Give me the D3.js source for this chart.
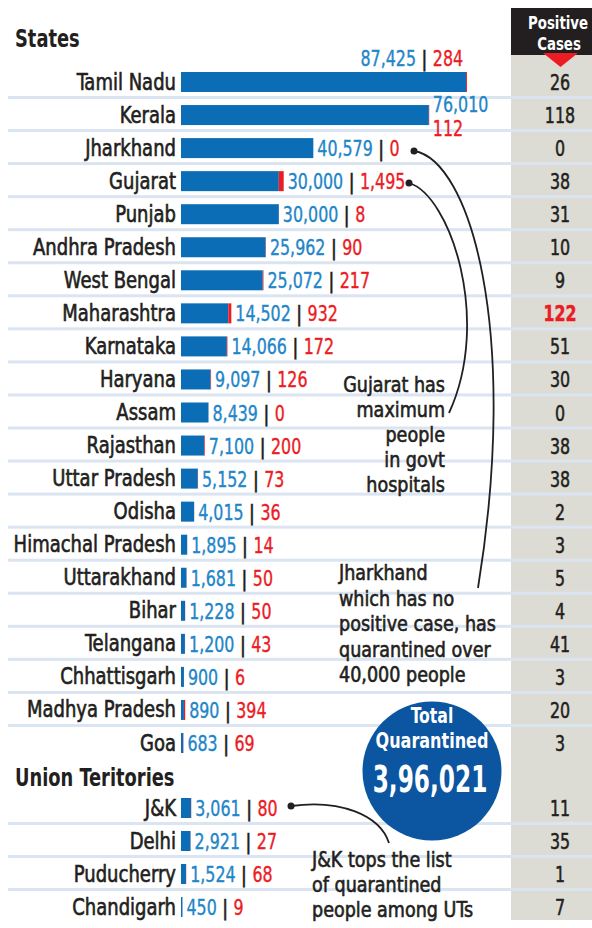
<!DOCTYPE html>
<html>
<head>
<meta charset="utf-8">
<script src="https://cdn.jsdelivr.net/npm/d3@7"></script>
<style>
  body { margin: 0; background: #fff; }
  svg text { font-family: "DejaVu Sans Condensed", "DejaVu Sans", sans-serif; }
</style>
</head>
<body>
<div id="chart"></div>
<script>
// データ
const states = ["Tamil Nadu", "Kerala", "Jharkhand", "Gujarat", "Punjab", "Andhra Pradesh",
  "West Bengal", "Maharashtra", "Karnataka", "Haryana", "Assam", "Rajasthan", "Uttar Pradesh",
  "Odisha", "Himachal Pradesh", "Uttarakhand", "Bihar", "Telangana", "Chhattisgarh",
  "Madhya Pradesh", "Goa"];
const stateQuarantined = [87425, 76010, 40579, 30000, 30000, 25962, 25072, 14502, 14066, 9097,
  8439, 7100, 5152, 4015, 1895, 1681, 1228, 1200, 900, 890, 683];
const stateGovt = [284, 112, 0, 1495, 8, 90, 217, 932, 172, 126, 0, 200, 73, 36, 14, 50, 50, 43, 6, 394, 69];
const statePositive = [26, 118, 0, 38, 31, 10, 9, 122, 51, 30, 0, 38, 38, 2, 3, 5, 4, 41, 3, 20, 3];

const uts = ["J&K", "Delhi", "Puducherry", "Chandigarh"];
const utQuarantined = [3061, 2921, 1524, 450];
const utGovt = [80, 27, 68, 9];
const utPositive = [11, 35, 1, 7];

const totalQuarantined = 396021;

const width = 592, height = 928;
const blue = "#0b6db5", blueText = "#1f86c8", red = "#ec1c24", dark = "#231f20";
const lineColor = "#dbe4f1", grayCol = "#dcdbd4";

const svg = d3.select("#chart").append("svg")
  .attr("width", width).attr("height", height);

// スケール
const x = d3.scaleLinear().domain([0, 87425 + 284]).range([181, 467]);
const yS = d3.scalePoint().domain(states).range([82, 743]);
const yU = d3.scalePoint().domain(uts).range([808, 907]);

// インド式の数値表記
function formatIN(n) {
  const s = String(n);
  if (s.length <= 3) return s;
  const last3 = s.slice(-3);
  const rest = s.slice(0, -3).replace(/\B(?=(\d{2})+(?!\d))/g, ",");
  return rest + "," + last3;
}

// 横に詰めた文字 (condensed風)
const tr = (px, py, sx) => `translate(${px},${py}) scale(${sx},1)`;

const stateRows = states.map((name, i) => ({ name, q: stateQuarantined[i], g: stateGovt[i], p: statePositive[i], y: yS(name), last: i === states.length - 1 }));
const utRows = uts.map((name, i) => ({ name, q: utQuarantined[i], g: utGovt[i], p: utPositive[i], y: yU(name), last: i === uts.length - 1 }));
const rows = stateRows.concat(utRows);

// 右のグレー列
svg.append("rect").attr("x", 511).attr("y", 54).attr("width", 81).attr("height", 866).attr("fill", grayCol);

// 区切り線
svg.selectAll("rect.sep").data(rows.filter(d => !d.last)).join("rect")
  .attr("class", "sep")
  .attr("x", 8).attr("width", width - 8)
  .attr("y", d => d.y + 14).attr("height", 3)
  .attr("fill", lineColor);

// ヘッダー
svg.append("rect").attr("x", 511).attr("y", 8).attr("width", 81).attr("height", 47).attr("fill", dark);
svg.append("path").attr("d", "M543,53 L578,53 L560.5,67 Z").attr("fill", red);
svg.append("text").attr("transform", tr(558, 29, 0.8)).attr("text-anchor", "middle")
  .attr("fill", "#fff").attr("font-weight", "bold").attr("font-size", 18.5).text("Positive");
svg.append("text").attr("transform", tr(559, 50, 0.8)).attr("text-anchor", "middle")
  .attr("fill", "#fff").attr("font-weight", "bold").attr("font-size", 18.5).text("Cases");

// セクション見出し
svg.append("text").attr("transform", tr(15, 47, 0.81)).attr("fill", dark)
  .attr("font-weight", "bold").attr("font-size", 24.5).text("States");
svg.append("text").attr("transform", tr(15, 786, 0.81)).attr("fill", dark)
  .attr("font-weight", "bold").attr("font-size", 24.5).text("Union Teritories");

// 州名
svg.selectAll("text.name").data(rows).join("text")
  .attr("class", "name")
  .attr("transform", d => tr(176, d.y + 7.5, 0.89))
  .attr("text-anchor", "end").attr("font-size", 22.5).attr("fill", dark)
  .attr("stroke", dark).attr("stroke-width", 0.6)
  .text(d => d.name);

// バー
svg.selectAll("rect.bar").data(rows).join("rect")
  .attr("class", "bar")
  .attr("x", x(0)).attr("y", d => d.y - 10)
  .attr("width", d => x(d.q) - x(0)).attr("height", 20)
  .attr("fill", blue);
svg.selectAll("rect.govt").data(rows.filter(d => d.g > 0)).join("rect")
  .attr("class", "govt")
  .attr("x", d => x(d.q)).attr("y", d => d.y - 10)
  .attr("width", d => x(d.g) - x(0)).attr("height", 20)
  .attr("fill", red);

// 値ラベル
const numSize = 20.5, numScale = 0.86;
function addNum(sel, color, txt) {
  return sel.append("tspan").attr("fill", color).attr("stroke", color).attr("stroke-width", 0.35).text(txt);
}
const labelRows = rows.filter(d => d.name !== "Kerala" && d.name !== "Tamil Nadu");
const labels = svg.selectAll("text.val").data(labelRows).join("text")
  .attr("class", "val")
  .attr("transform", d => tr(x(d.q) + (x(d.g) - x(0)) + 4, d.y + 8, numScale))
  .attr("font-size", numSize);
addNum(labels, blueText, d => formatIN(d.q));
addNum(labels, dark, " | ").attr("font-weight", "bold");
addNum(labels, red, d => formatIN(d.g));

// Tamil Nadu (バーの上)
const tn = stateRows[0];
const tnLabel = svg.append("text").attr("transform", tr(x(tn.q) - 3, tn.y - 16, numScale))
  .attr("text-anchor", "end").attr("font-size", numSize);
addNum(tnLabel, blueText, formatIN(tn.q));
addNum(tnLabel, dark, " | ").attr("font-weight", "bold");
addNum(tnLabel, red, formatIN(tn.g));

// Kerala (2行)
const ke = stateRows[1];
addNum(svg.append("text").attr("transform", tr(x(ke.q) + 4, ke.y - 3, numScale)).attr("font-size", numSize),
  blueText, formatIN(ke.q));
addNum(svg.append("text").attr("transform", tr(x(ke.q) + 4, ke.y + 21, numScale)).attr("font-size", numSize),
  red, formatIN(ke.g));

// 陽性者数
svg.selectAll("text.pos").data(rows).join("text")
  .attr("class", "pos")
  .attr("transform", d => tr(560, d.y + 8, numScale))
  .attr("text-anchor", "middle").attr("font-size", numSize)
  .attr("fill", d => d.name === "Maharashtra" ? red : dark)
  .attr("font-weight", d => d.name === "Maharashtra" ? "bold" : "normal")
  .attr("stroke", d => d.name === "Maharashtra" ? red : dark).attr("stroke-width", 0.5)
  .text(d => d.p);

// 注釈の線
const connectors = [
  { dot: [414, 151], d: "M414,151 C470,160 520,330 478,588" },
  { dot: [409, 183], d: "M409,183 C450,195 492,320 449,413" },
  { dot: [291, 806], d: "M291,806 C340,799 380,815 389,843" }
];
svg.selectAll("path.conn").data(connectors).join("path")
  .attr("class", "conn").attr("d", d => d.d)
  .attr("fill", "none").attr("stroke", dark).attr("stroke-width", 1.8);
svg.selectAll("circle.dot").data(connectors).join("circle")
  .attr("class", "dot").attr("cx", d => d.dot[0]).attr("cy", d => d.dot[1])
  .attr("r", 3.5).attr("fill", dark);

// 注釈テキスト
function noteBlock(lines, xPos, y0, step, anchor) {
  svg.append("g").selectAll("text").data(lines).join("text")
    .attr("transform", (d, i) => tr(xPos, y0 + i * step, 0.93))
    .attr("text-anchor", anchor).attr("font-size", 21).attr("fill", dark)
    .attr("stroke", dark).attr("stroke-width", 0.6)
    .text(d => d);
}
noteBlock(["Gujarat has", "maximum", "people", "in govt", "hospitals"], 445, 392, 25, "end");
noteBlock(["Jharkhand", "which has no", "positive case, has", "quarantined over", "40,000 people"], 339, 580, 25.5, "start");
noteBlock(["J&K tops the list", "of quarantined", "people among UTs"], 312, 867, 25, "start");

// 合計の円
svg.append("circle").attr("cx", 432).attr("cy", 771).attr("r", 69.5).attr("fill", "#0c55a0");
svg.append("text").attr("transform", tr(432, 723, 0.85)).attr("text-anchor", "middle")
  .attr("fill", "#fff").attr("font-weight", "bold").attr("font-size", 20.5).text("Total");
svg.append("text").attr("transform", tr(432, 748, 0.87)).attr("text-anchor", "middle")
  .attr("fill", "#fff").attr("font-weight", "bold").attr("font-size", 20.5).text("Quarantined");
svg.append("text").attr("transform", tr(430, 792, 0.68)).attr("text-anchor", "middle")
  .attr("fill", "#fff").attr("font-weight", "bold").attr("font-size", 38).text(formatIN(totalQuarantined));
</script>
</body>
</html>
